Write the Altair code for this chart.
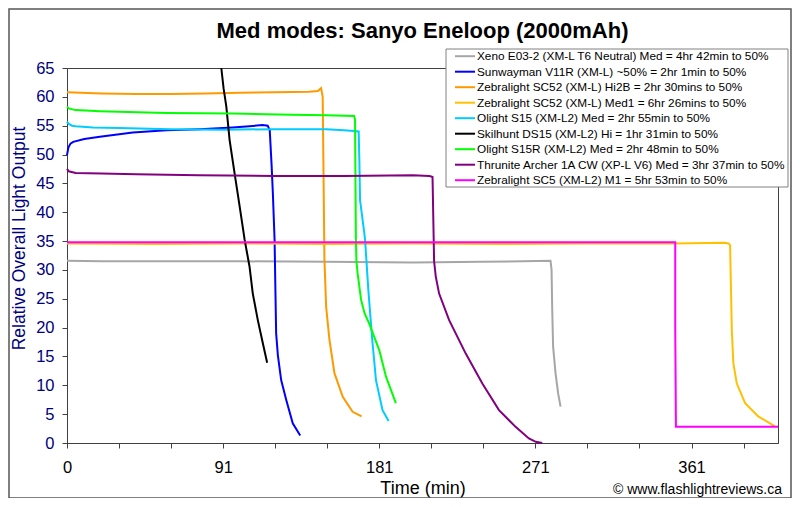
import altair as alt
import pandas as pd

# ---------------- data ----------------
series_names = [
    "Xeno E03-2 (XM-L T6 Neutral) Med = 4hr 42min to 50%",
    "Sunwayman V11R (XM-L) ~50% = 2hr 1min to 50%",
    "Zebralight SC52 (XM-L) Hi2B = 2hr 30mins to 50%",
    "Zebralight SC52 (XM-L) Med1 = 6hr 26mins to 50%",
    "Olight S15 (XM-L2) Med = 2hr 55min to 50%",
    "Skilhunt DS15 (XM-L2) Hi = 1hr 31min to 50%",
    "Olight S15R (XM-L2) Med = 2hr 48min to 50%",
    "Thrunite Archer 1A CW (XP-L V6) Med = 3hr 37min to 50%",
    "Zebralight SC5 (XM-L2) M1 = 5hr 53min to 50%",
]
series_colors = ["#A6A6A6", "#0000FF", "#FF9900", "#FFC000", "#00CCFF",
                 "#000000", "#00FF00", "#800080", "#FF00FF"]

xeno_t = [0, 20, 60, 100, 150, 200, 240, 279.5, 280.1, 280.5, 281.0, 282.4, 283.9, 285.3]
xeno_v = [31.6, 31.5, 31.5, 31.5, 31.4, 31.3, 31.4, 31.6, 30.0, 23.0, 16.7, 12.1, 8.6, 6.3]

sunway_t = [0, 0.8, 2, 3.6, 10, 19, 38, 57.5, 76.7, 95.7, 105.5, 113, 116, 117.2,
            118.3, 119, 120, 120.5, 120.9, 121.9, 123.8, 126.7, 130.5, 134.8]
sunway_v = [49.9, 51.2, 51.9, 52.2, 52.7, 53.1, 53.8, 54.2, 54.4, 54.7, 54.9, 55.1, 55.0, 54.2,
            48.0, 43.3, 35.2, 26.0, 19.0, 15.2, 10.9, 7.5, 3.4, 1.3]

hi2b_t = [0, 20, 40, 60, 80, 100, 120, 140, 145, 146.9, 147.8, 148.2, 148.8,
          149.8, 151.7, 154.6, 159.4, 165.1, 170.3]
hi2b_v = [60.8, 60.6, 60.5, 60.5, 60.6, 60.7, 60.8, 60.9, 61.0, 61.5, 60.0, 49.0, 32.0,
          23.6, 17.9, 12.1, 8.0, 5.4, 4.6]

med1_t = [0, 50, 100, 150, 200, 250, 300, 350, 380, 382.4, 383.3, 383.8, 384.3,
          385.2, 387.2, 392, 399.6, 409.3]
med1_v = [34.6, 34.5, 34.6, 34.5, 34.6, 34.5, 34.6, 34.6, 34.7, 34.6, 34.3, 27.0, 19.6,
          13.8, 10.3, 6.9, 4.6, 2.9]

s15_t = [0, 1, 3, 5, 15, 30, 60, 90, 120, 150, 160, 166, 168.6, 169, 169.4, 171.9,
         172.3, 174.2, 176.3, 178.6, 182.4, 185.9]
s15_v = [55.7, 55.3, 55.0, 54.9, 54.7, 54.6, 54.4, 54.3, 54.4, 54.4, 54.2, 54.1, 54.0, 49.0,
         42.1, 36.3, 35.2, 26.5, 18.4, 10.9, 5.7, 3.8]

ds15_t = [89.2, 90.5, 92.1, 94, 96.9, 99.8, 102.7, 105.5, 107.4, 110.3, 113.2, 115.7]
ds15_v = [65.0, 61.5, 58.3, 52.5, 46.7, 41.0, 35.2, 30.6, 25.9, 21.3, 17.3, 13.9]

s15r_t = [0, 1, 5, 19, 57.5, 96, 115, 130, 150, 166, 166.5, 167, 167.3, 168, 170,
          172, 174.7, 180.5, 184.4, 190.1]
s15r_v = [58.3, 58.0, 57.7, 57.5, 57.2, 57.1, 57.0, 56.9, 56.8, 56.7, 56.0, 35.2, 31.5, 29.4,
          24.8, 22.5, 20.7, 16.1, 11.5, 6.9]

archer_t = [0, 1, 5, 20, 40, 76, 120, 160, 200, 209.3, 210.5, 211.3, 211.8, 212.2,
            213.2, 215.1, 220.9, 230.5, 240.1, 249.7, 259.3, 267, 271, 274.7]
archer_v = [47.5, 47.1, 46.8, 46.7, 46.6, 46.4, 46.3, 46.3, 46.4, 46.3, 46.2, 46.1, 38.0, 31.5,
            28.8, 25.9, 21.3, 15.5, 10.3, 5.7, 2.8, 0.8, 0.2, 0.0]

sc5_t = [0, 100, 200, 300, 351.6, 351.6, 352.0, 380, 411]
sc5_v = [34.8, 34.8, 34.8, 34.8, 34.8, 20.0, 2.8, 2.8, 2.8]

all_t = [xeno_t, sunway_t, hi2b_t, med1_t, s15_t, ds15_t, s15r_t, archer_t, sc5_t]
all_v = [xeno_v, sunway_v, hi2b_v, med1_v, s15_v, ds15_v, s15r_v, archer_v, sc5_v]

x_tick_values = [round(k * 30.0833, 3) for k in range(14)]
x_major_values = [0, 90.25, 180.5, 270.75, 361]
x_major_labels = ["0", "91", "181", "271", "361"]
y_tick_values = list(range(0, 70, 5))

title_text = "Med modes: Sanyo Eneloop (2000mAh)"
x_title = "Time (min)"
y_title = "Relative Overall Light Output"
credit_text = "\u00a9 www.flashlightreviews.ca"

# ---------------- build table ----------------
rows = []
for name, ts, vs in zip(series_names, all_t, all_v):
    for i, (t, v) in enumerate(zip(ts, vs)):
        rows.append({"series": name, "t": t, "v": v, "i": i})
df = pd.DataFrame(rows)

label_expr = " : ".join(
    f"abs(datum.value - {v}) < 0.5 ? '{l}'" for v, l in zip(x_major_values, x_major_labels)
) + " : ''"

FONT = "Liberation Sans"
PLOT_W, PLOT_H = 711, 375

x_enc = alt.X(
    "t:Q",
    scale=alt.Scale(domain=[0, 411], nice=False, zero=False),
    axis=alt.Axis(
        title=x_title, values=x_tick_values, labelExpr=label_expr,
        labelFontSize=16.5, labelColor="#000000", labelPadding=11,
        tickSize=5, tickColor="#404040", domainColor="#404040", grid=False,
        titleFontSize=18, titleFontWeight="normal", titleColor="#000000",
        titleBaseline="alphabetic", titleY=50, labelFlush=False, labelOverlap=False,
    ),
)
y_enc = alt.Y(
    "v:Q",
    scale=alt.Scale(domain=[0, 65], nice=False),
    axis=alt.Axis(
        title=y_title, values=y_tick_values,
        labelFontSize=16.5, labelColor="#000080", labelPadding=8,
        tickSize=5, tickColor="#404040", domainColor="#404040", grid=False,
        titleFontSize=17.5, titleFontWeight="normal", titleColor="#000080",
        titleBaseline="alphabetic", titleX=-43, titleY=170, titleAngle=270,
        labelFlush=False,
    ),
)
color_enc = alt.Color(
    "series:N",
    scale=alt.Scale(domain=series_names, range=series_colors),
    legend=alt.Legend(
        title=None, orient="none", legendX=391, legendY=-18.8,
        symbolType="M-1.67,0L1.67,0", symbolSize=144, symbolStrokeWidth=2,
        labelFontSize=11.8, labelColor="#000000", labelOffset=5,
        rowPadding=1.5, padding=0, labelLimit=400,
    ),
)

one = pd.DataFrame({"a": [0]})

frame = alt.Chart(one).mark_rect(
    fillOpacity=0, stroke="#555555", strokeWidth=1.5
).encode(x=alt.value(-58), x2=alt.value(724), y=alt.value(-59), y2=alt.value(430))

lines = []
for name in series_names:
    lines.append(
        alt.Chart(df).transform_filter(alt.datum.series == name)
        .mark_line(strokeWidth=2)
        .encode(x=x_enc, y=y_enc, color=color_enc, order="i:Q")
    )

legend_box = alt.Chart(one).mark_rect(
    fill="#FFFFFF", stroke="#808080", strokeWidth=1
).encode(x=alt.value(379), x2=alt.value(721), y=alt.value(-19), y2=alt.value(119))

title_mark = alt.Chart(one).mark_text(
    text=title_text, align="center", baseline="alphabetic", fontSize=22,
    fontWeight="bold", font=FONT, color="#000000"
).encode(x=alt.value(PLOT_W / 2), y=alt.value(-30))

credit = alt.Chart(one).mark_text(
    text=credit_text, align="right", baseline="alphabetic", fontSize=14,
    font=FONT, color="#000000"
).encode(x=alt.value(715), y=alt.value(426))

chart = alt.layer(frame, legend_box, *lines, title_mark, credit).properties(
    width=PLOT_W, height=PLOT_H,
    padding={"left": 59, "top": 60, "right": 14, "bottom": 55},
    autosize=alt.AutoSizeParams(type="none"),
).configure(
    font=FONT, background="#FFFFFF"
).configure_view(
    stroke="#404040", strokeWidth=1
).configure_legend(
    rowPadding=1.5
)

chart.save("out.html", embed_options={"renderer": "svg", "actions": False})
